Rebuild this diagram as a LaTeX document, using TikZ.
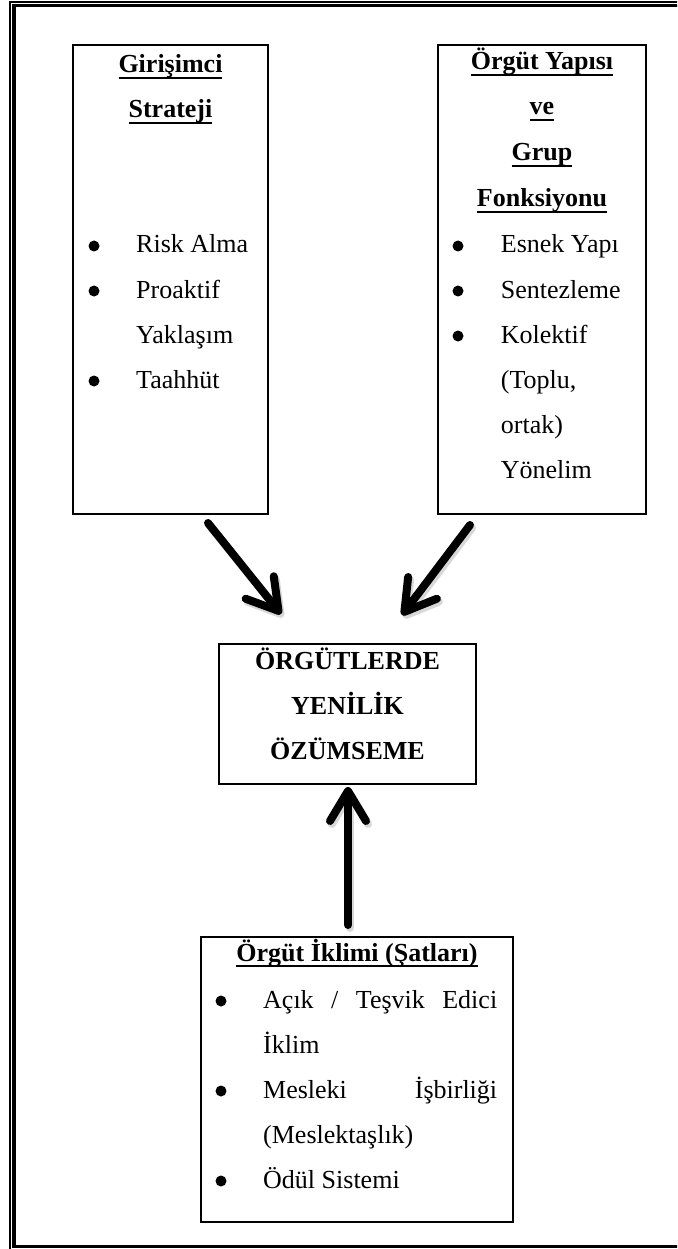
\documentclass[tikz,border=0pt]{standalone}
\usepackage{fontspec}
\setmainfont{Liberation Serif}
\usetikzlibrary{arrows.meta}
\newsavebox\ulbox
\newcommand\myul[1]{\sbox\ulbox{#1}\rlap{\rule[-6pt]{\wd\ulbox}{2pt}}\usebox\ulbox}
\begin{document}
\begin{tikzpicture}[x=1pt,y=-1pt,
  boxframe/.style={draw, line width=2pt, inner sep=0pt},
  txt/.style={anchor=base west, inner sep=0pt, font=\fontsize{26}{31}\selectfont},
  hd/.style={anchor=base, inner sep=0pt, font=\fontsize{26}{31}\selectfont\bfseries},
  bul/.style={circle, fill=black, inner sep=0pt, minimum size=11pt},
  bigarrow/.style={line width=8pt, line cap=round, line join=round,
    -{Straight Barb[length=30pt, width=36pt, round]}},
  shadowarrow/.style={bigarrow, draw=black!30, opacity=0.5,
    transform canvas={shift={(2pt,-3pt)}}}
]
\clip (0,0) rectangle (677,1249);
\useasboundingbox (0,0) rectangle (677,1249);
% outer frame
\draw[line width=2pt] (10,1260) -- (10,2.5) -- (690,2.5);
\draw[line width=3.5pt] (690,5.7) -- (14.2,5.7) -- (14.2,1246.5) -- (690,1246.5);

% boxes
\node[boxframe, minimum width=195pt, minimum height=469pt] (gs) at (170.5,279.5) {};
\node[boxframe, minimum width=208pt, minimum height=469pt] (oy) at (542,279.5) {};
\node[boxframe, minimum width=257pt, minimum height=140pt] (oy2) at (347.5,714) {};
\node[boxframe, minimum width=312pt, minimum height=285pt] (oi) at (357,1079.5) {};

% left box text
\node[hd] (gs1) at (170.5,73) {\myul{Girişimci}};
\node[hd] (gs2) at (170.5,118) {\myul{Strateji}};
\node[bul] (gsb1) at (94,246) {};
\node[txt] (gst1) at (136,253) {Risk Alma};
\node[bul] (gsb2) at (94,291) {};
\node[txt] (gst2) at (136,298) {Proaktif};
\node[txt] (gst3) at (136,343) {Yaklaşım};
\node[bul] (gsb3) at (94,381) {};
\node[txt] (gst4) at (136,388) {Taahhüt};

% right box text
\node[hd] (oy1) at (542,70) {\myul{Örgüt Yapısı}};
\node[hd] (oyh2) at (542,115) {\myul{ve}};
\node[hd] (oyh3) at (542,161) {\myul{Grup}};
\node[hd] (oyh4) at (542,207) {\myul{Fonksiyonu}};
\node[bul] (oyb1) at (458,246) {};
\node[txt] (oyt1) at (500.7,253) {Esnek Yapı};
\node[bul] (oyb2) at (458,291) {};
\node[txt] (oyt2) at (500.7,298) {Sentezleme};
\node[bul] (oyb3) at (458,336) {};
\node[txt] (oyt3) at (500.7,343) {Kolektif};
\node[txt] (oyt4) at (500.7,388) {(Toplu,};
\node[txt] (oyt5) at (500.7,433) {ortak)};
\node[txt] (oyt6) at (500.7,478) {Yönelim};

% center box text
\node[hd] (c1) at (347.5,669) {ÖRGÜTLERDE};
\node[hd] (c2) at (347.5,714) {YENİLİK};
\node[hd] (c3) at (347.5,759) {ÖZÜMSEME};

% bottom box text
\node[hd] (oih) at (357,961) {\myul{Örgüt İklimi (Şatları)}};
\node[bul] (oib1) at (221,1001) {};
\node[txt] (oit1) at (263,1008) {\makebox[234pt][s]{Açık / Teşvik Edici}};
\node[txt] (oit2) at (263,1053) {İklim};
\node[bul] (oib2) at (221,1091) {};
\node[txt] (oit3) at (263,1098) {\makebox[234pt][s]{Mesleki İşbirliği}};
\node[txt] (oit4) at (263,1143) {(Meslektaşlık)};
\node[bul] (oib3) at (221,1181) {};
\node[txt] (oit5) at (263,1188) {Ödül Sistemi};

% arrows
\coordinate (a1s) at (208,523);
\coordinate (a1e) at (281,614);
\coordinate (a2s) at (470,525);
\coordinate (a2e) at (402,615);
\coordinate (a3s) at (348,925);
\coordinate (a3e) at (348,787);
\draw[shadowarrow] (a1s) -- (a1e);
\draw[shadowarrow] (a2s) -- (a2e);
\draw[shadowarrow] (a3s) -- (a3e);
\draw[bigarrow] (a1s) -- (a1e);
\draw[bigarrow] (a2s) -- (a2e);
\draw[bigarrow] (a3s) -- (a3e);
\end{tikzpicture}
\end{document}
